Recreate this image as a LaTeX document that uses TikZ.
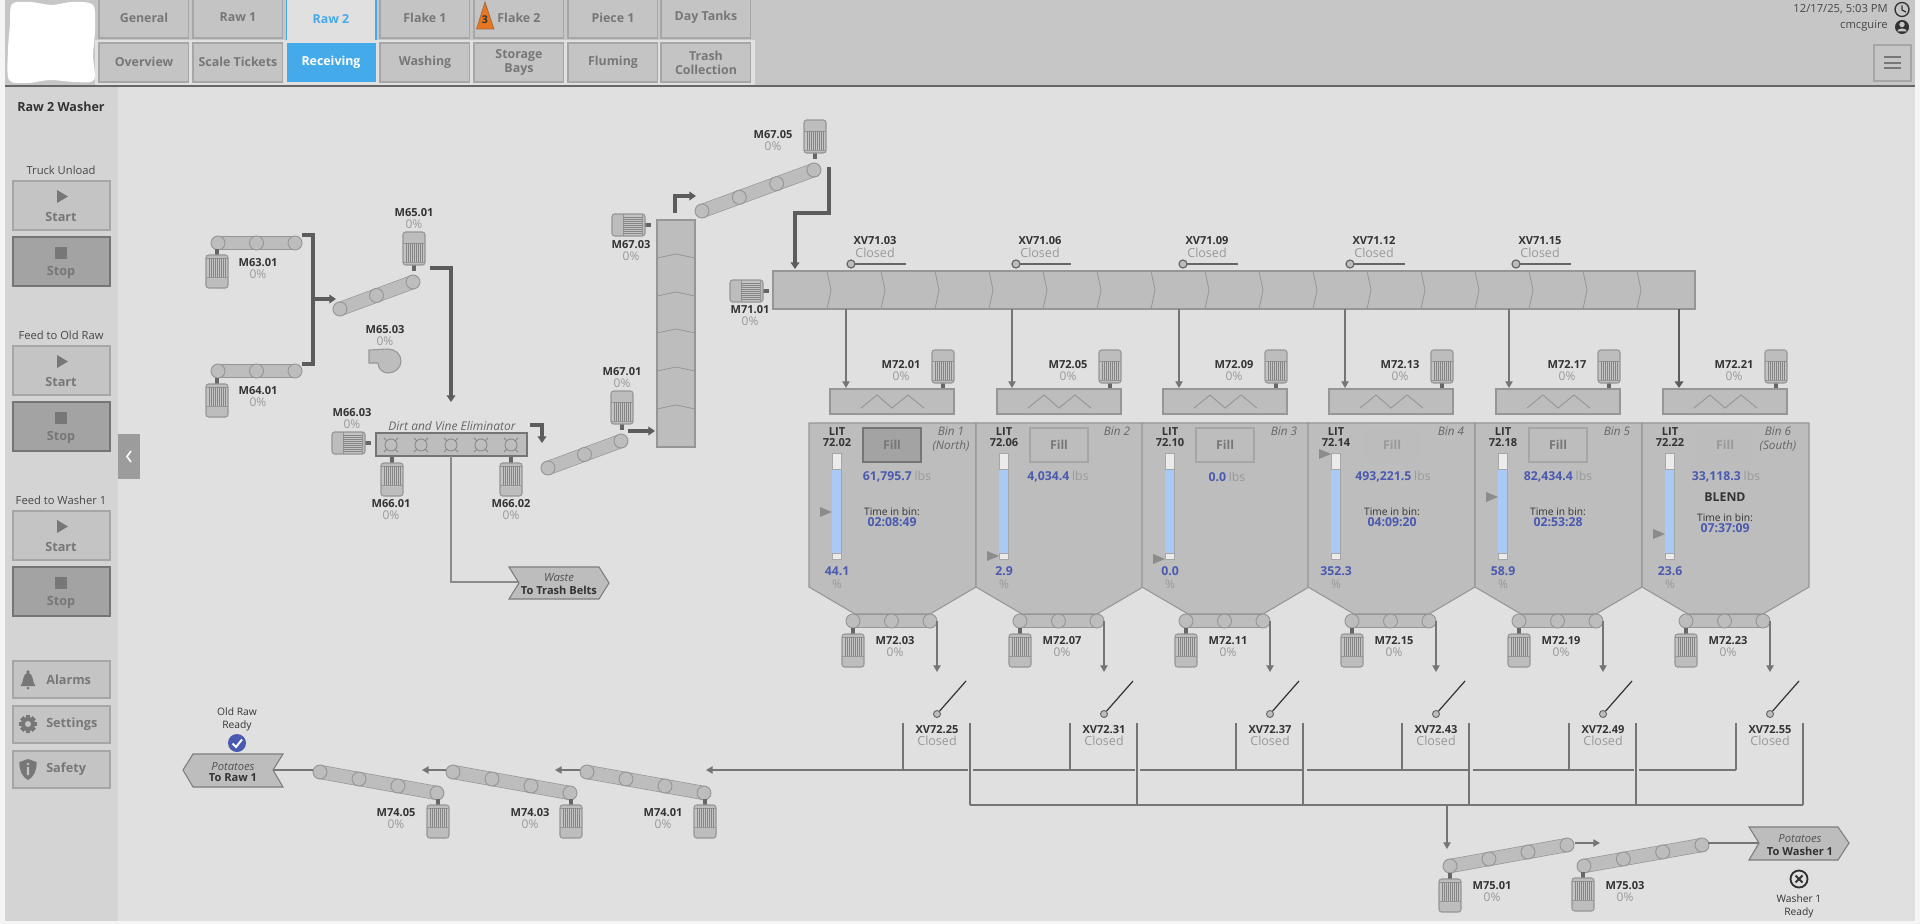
\documentclass[tikz,border=0pt]{standalone}
\usepackage{fontspec}
\setmainfont{Open Sans}
\usetikzlibrary{arrows.meta}
\usetikzlibrary{calc}

\definecolor{panelbg}{HTML}{E0E0E0}
\definecolor{headbg}{HTML}{C6C6C6}
\definecolor{sidebg}{HTML}{D4D4D4}
\definecolor{btnbg}{HTML}{C4C4C4}
\definecolor{btnedge}{HTML}{A6A6A6}
\definecolor{btndark}{HTML}{A3A3A3}
\definecolor{equip}{HTML}{BDBDBD}
\definecolor{equipedge}{HTML}{969696}
\definecolor{flow}{HTML}{666666}
\definecolor{softtext}{HTML}{999999}
\definecolor{btntext}{HTML}{777777}
\definecolor{darktext}{HTML}{333333}
\definecolor{valblue}{HTML}{4A5AB0}
\definecolor{levelblue}{HTML}{A9C9F7}
\definecolor{tabblue}{HTML}{45AAEA}
\definecolor{warnorange}{HTML}{E8771F}

\newcommand{\fsz}[1]{\fontsize{#1}{#1}\selectfont}

\tikzset{
	every node/.style={inner sep=0pt},
	tabbox/.style={fill=btnbg,draw=btnedge,line width=0.9pt},
	tabtext/.style={font=\fsz{9.3}\bfseries,text=btntext},
	btnup/.style={fill=btnbg,draw=btnedge,line width=0.9pt},
	btndown/.style={fill=btndark,draw=flow!75!btndark,line width=0.9pt},
	btntxt/.style={font=\fsz{9.5}\bfseries,text=btntext},
	plain/.style={font=\fsz{8.4},text=darktext!90},
	tagname/.style={font=\fsz{8.3}\bfseries,text=darktext},
	tagval/.style={font=\fsz{9},text=softtext},
	binval/.style={font=\fsz{9.2}\bfseries,text=valblue},
	binnote/.style={font=\fsz{8.8}\itshape,text=flow},
	boxnote/.style={font=\fsz{8.4}\itshape,text=flow!80!black},
	boxname/.style={font=\fsz{8.3}\bfseries,text=darktext},
	equipbox/.style={fill=equip,draw=equipedge,line width=0.8pt},
	heavyflow/.style={draw=flow!90!black,line width=2.4pt,-{Triangle[length=5pt,width=6.5pt]}},
	heavyline/.style={draw=flow!90!black,line width=2.4pt},
	thinflow/.style={draw=flow!90,line width=0.9pt,-{Triangle[length=5pt,width=5.5pt]}},
	pipeline/.style={draw=flow!90,line width=0.9pt},
	roller/.style={fill=equip,draw=equipedge,line width=0.7pt},
	motor/.pic={
		\draw[flow,line width=3pt] (0,-6) -- (0,0);
		\draw[equipbox,rounded corners=2pt] (-11,0) rectangle (11,33);
		\fill[btnbg] (-10.4,3) rectangle (10.4,22);
		\draw[equipedge,line width=0.5pt] (-10.6,3) -- (10.6,3) (-10.6,22) -- (10.6,22);
		\foreach \r in {-8,-6,...,8} \draw[flow!80,line width=0.6pt] (\r,3) -- (\r,22);
	},
}

\newcommand{\belt}[5]{
	\draw[equipedge,line width=10.6pt] (#1,#2) -- (#3,#4);
	\draw[equip,line width=9.6pt] (#1,#2) -- (#3,#4);
	\foreach \k in {0,...,#5} \draw[roller] ($(#1,#2)!\k/#5!(#3,#4)$) circle (7);
}

\begin{document}
\begin{tikzpicture}[x=0.75pt,y=-0.75pt]
	\useasboundingbox (0,0) rectangle (1920,924);

	%% Page %%
	\fill[white!96!black] (0,0) rectangle (1920,924);
	\fill[panelbg] (5,86) rectangle (1915,921);
	\fill[sidebg] (5,86) rectangle (118,921);
	\fill[headbg] (5,0) rectangle (1915,86);
	\fill[panelbg] (95,40) rectangle (755,86);
	\draw[flow,line width=0.9pt] (5,86) -- (1915,86);
	\fill[white] plot[smooth cycle,tension=0.5] coordinates {(12,4) (30,2) (52,5) (72,2) (93,5) (95,30) (93,55) (94,80) (75,82) (50,80) (28,83) (9,80) (8,50) (10,25)};

	%% Tabs %%
	\foreach[count=\i] \x/\t in {99/General,193/Raw 1,380/Flake 1,474/Flake 2,568/Piece 1,661/Day Tanks} {
		\draw[tabbox] (\x,-2) rectangle (\x+89.5,38);
		\node[tabtext] (top\i) at (\x+45,17.5) {\t};
	}
	\fill[panelbg] (286.5,0) rectangle (376,40);
	\draw[tabblue,line width=0.8pt] (286.5,0) -- (286.5,40) (376,0) -- (376,40);
	\node[tabtext,text=tabblue] (rawtwo) at (331,19.5) {Raw 2};
	\fill[warnorange,draw=flow!60!warnorange,line width=0.5pt] (485,2) -- (494,29) -- (476.5,29) -- cycle;
	\node[font=\fsz{8}\bfseries,text=darktext] (warncount) at (485,20) {3};
	\foreach[count=\i] \x/\t in {99/Overview,193/Scale Tickets,380/Washing,568/Fluming} {
		\draw[tabbox] (\x,43) rectangle (\x+89.5,82);
		\node[tabtext] (low\i) at (\x+45,62) {\t};
	}
	\fill[tabblue] (286.5,43) rectangle (376,82);
	\node[tabtext,text=white] (receiving) at (331,62) {Receiving};
	\foreach \x in {474,661} \draw[tabbox] (\x,43) rectangle (\x+89.5,82);
	\node[tabtext] (storage) at (519,56) {Storage};
	\node[tabtext] (bays) at (519,70) {Bays};
	\node[tabtext] (trash) at (706,56) {Trash};
	\node[tabtext] (collection) at (706,70) {Collection};

	%% Clock and User %%
	\node[plain,anchor=east] (stamp) at (1888,9) {12/17/25, 5:03 PM};
	\node[plain,anchor=east] (user) at (1888,26) {cmcguire};
	\draw[darktext,line width=1pt] (1902,9.5) circle (7);
	\draw[darktext,line width=0.9pt] (1902,5.5) -- (1902,10) -- (1906,12);
	\fill[darktext] (1902,27) circle (7);
	\fill[headbg] (1902,24.5) circle (2.7);
	\fill[headbg] (1897,31.5) .. controls (1898,27.5) and (1906,27.5) .. (1907,31.5) -- cycle;
	\draw[btnedge,line width=0.9pt] (1874,45) rectangle (1911,81);
	\foreach \y in {57.5,63,68.5} \draw[btntext,line width=1.5pt] (1884,\y) -- (1901,\y);

	%% Side Panel %%
	\node[font=\fsz{9.4}\bfseries,text=darktext] (washer) at (61,107) {Raw 2 Washer};
	\foreach[count=\i] \y/\t in {181/Truck Unload,346/Feed to Old Raw,511/Feed to Washer 1} {
		\node[plain] (group\i) at (61,\y-11) {\t};
		\draw[btnup] (13,\y) rectangle (110,\y+49);
		\fill[btntext] (57,\y+9) -- (68,\y+15.5) -- (57,\y+22) -- cycle;
		\node[btntxt] (start\i) at (61,\y+36) {Start};
		\draw[btndown] (13,\y+56) rectangle (110,\y+105);
		\fill[btntext] (55,\y+66) rectangle (67,\y+78);
		\node[btntxt] (stop\i) at (61,\y+91) {Stop};
	}
	\foreach[count=\i] \y/\t in {661/Alarms,706/Settings,751/Safety} {
		\draw[btnup] (13,\y) rectangle (110,\y+37);
		\node[btntxt,anchor=west] (tool\i) at (46,\y+18.5) {\t};
	}
	\fill[btntext] (20.5,686) .. controls (24,682) and (22,674) .. (28,672.5) .. controls (34,674) and (32,682) .. (35.5,686) -- cycle;
	\fill[btntext] (28,672) circle (1.8) (28,688) circle (1.5);
	\foreach \a in {0,45,...,135} \fill[btntext,rotate around={\a:(28,724)}] (25.8,715) rectangle (30.2,733);
	\fill[btntext] (28,724) circle (7);
	\fill[btnbg] (28,724) circle (3);
	\fill[btntext] (28,759) -- (36.5,762) .. controls (37,770) and (34,777) .. (28,780) .. controls (22,777) and (19,770) .. (19.5,762) -- cycle;
	\fill[btnbg] (26.8,767) rectangle (29.2,775) (28,764) circle (1.4);
	\fill[black!12] (118,436) rectangle (142,482);
	\fill[black!39] (118,434) rectangle (140,479);
	\draw[white,line width=1.2pt] (131,451) -- (127,456.5) -- (131,462);

	%% First Conveyors %%
	\belt{218}{243}{295}{243}{2}
	\belt{218}{371}{295}{371}{2}
	\belt{340}{309}{413}{282}{2}
	\pic at (217,255) {motor};
	\pic at (217,384) {motor};
	\pic[rotate=180] at (414,265) {motor};
	\coordinate (m63out) at (302,235);
	\coordinate (m64out) at (302,364);
	\coordinate (m65in) at (336,299);
	\coordinate (m65out) at (430,268);
	\coordinate (eliminin) at (451,402);
	\draw[heavyline] (m63out) -| (313,364) -- (m64out);
	\draw[heavyflow] (313,299) -- (m65in);
	\draw[heavyflow] (m65out) -| (eliminin);
	\draw[equipbox] (369,350) -- (388,349) .. controls (395,349) and (401,354) .. (401,361) .. controls (401,368) and (395,373) .. (388,373) .. controls (382,373) and (378,368) .. (378,363) -- (369,363) -- cycle;

	%% Dirt and Vine Eliminator %%
	\pic[rotate=-90] at (365,443) {motor};
	\pic at (392,463) {motor};
	\pic at (511,463) {motor};
	\draw[equipbox,draw=flow!90,line width=1.1pt] (376,433) rectangle (527,456);
	\foreach \x in {391,421,...,511} {
		\draw[flow!80,line width=0.6pt] (\x,445) circle (6);
		\draw[flow!80,line width=0.6pt] (\x-7,438) -- (\x-4,441) (\x+7,438) -- (\x+4,441) (\x-7,452) -- (\x-4,449) (\x+7,452) -- (\x+4,449);
	}
	\node[font=\fsz{9}\itshape,text=flow] (elimin) at (452,426) {Dirt and Vine Eliminator};
	\coordinate (elimout) at (530,425);
	\coordinate (m67in) at (542,443);
	\coordinate (wastein) at (519,582);
	\draw[heavyflow] (elimout) -| (m67in);
	\draw[pipeline,draw=flow!75] (451,456) |- (wastein);
	\draw[equipbox,draw=flow!85] (509,567) -- (599,567) -- (609,583) -- (599,599) -- (509,599) -- (519,583) -- cycle;
	\node[boxnote] (wastenote) at (559,578) {Waste};
	\node[boxname] (wastename) at (559,590) {To Trash Belts};

	%% Elevator %%
	\belt{548}{468}{621}{441}{2}
	\pic[rotate=180] at (622,424) {motor};
	\coordinate (m67out) at (628,431);
	\coordinate (elevin) at (655,431);
	\draw[heavyflow] (m67out) -- (elevin);
	\draw[equipbox] (657,220) rectangle (695,447);
	\foreach \y in {254,292,329,367,405} \draw[equipedge,line width=0.6pt] (657,\y+4) -- (676,\y) -- (695,\y+4);
	\pic[rotate=-90] at (645,225) {motor};
	\coordinate (elevout) at (675,213);
	\coordinate (m6705in) at (696,196);
	\draw[heavyflow] (elevout) |- (m6705in);
	\belt{702}{211}{814}{170}{3}
	\pic[rotate=180] at (815,153) {motor};
	\coordinate (m6705out) at (829,167);
	\coordinate (screwin) at (795,269);
	\draw[heavyflow] (m6705out) -- (829,213) -- (795,213) -- (screwin);

	%% Screw Conveyor %%
	\pic[rotate=-90] at (763,291) {motor};
	\draw[equipbox] (773,271) rectangle (1695,309);
	\foreach \k in {0,...,15} \draw[equipedge,line width=0.6pt] (827+54*\k,271) -- (831+54*\k,290) -- (827+54*\k,309);
	\foreach[count=\i] \c/\t in {875/03,1040/06,1207/09,1374/12,1540/15} {
		\node[tagname] (xvname\i) at (\c,241) {XV71.\t};
		\node[tagval,font=\fsz{9.4}] (xvstate\i) at (\c,252.5) {Closed};
		\draw[flow,line width=1.6pt] (\c-24,264) -- (\c+31,264);
		\draw[roller,draw=flow,line width=0.9pt] (\c-24,264) circle (4);
	}

	%% Bins %%
	\foreach[count=\i] \L/\lit/\ptr/\lvl/\feed/\bel/\xv/\drop in {809/72.02/512/44.1/01/03/25/846,976/72.06/556/2.9/05/07/31/1012,1142/72.10/559/0.0/09/11/37/1179,1308/72.14/454/352.3/13/15/43/1345,1475/72.18/497/58.9/17/19/49/1509,1642/72.22/534/23.6/21/23/55/1679} {
		%% Feeder %%
		\pic[rotate=180] at (\L+134,383) {motor};
		\draw[equipbox] (\L+21,389) rectangle (\L+145,414);
		\draw[equipedge,line width=0.7pt] (\L+52,408) -- (\L+68,395) -- (\L+83,408) -- (\L+99,395) -- (\L+115,408);
		\node[tagname] (feedname\i) at (\L+92,365) {M72.\feed};
		\node[tagval] (feedval\i) at (\L+92,376) {0\%};
		\coordinate (dropin\i) at (\drop,309);
		\coordinate (dropout\i) at (\drop,388);
		%% Body %%
		\draw[equipbox] (\L,423) -- (\L+167,423) -- (\L+167,587) -- (\L+121,614) -- (\L+46,614) -- (\L,587) -- cycle;
		\node[tagname] (litname\i) at (\L+28,432) {LIT};
		\node[tagname] (littag\i) at (\L+28,443) {\lit};
		\draw[fill=white!92!black,draw=btnedge,line width=0.7pt] (\L+23,453) rectangle (\L+32,559);
		\fill[levelblue] (\L+23.4,469) rectangle (\L+31.6,553);
		\draw[btnedge,line width=0.6pt] (\L+23,469) -- (\L+32,469) (\L+23,553) -- (\L+32,553);
		\fill[black!45] (\L+11,\ptr-5) -- (\L+23,\ptr) -- (\L+11,\ptr+5) -- cycle;
		\node[binval] (lvl\i) at (\L+28,571) {\lvl};
		\node[tagval] (pct\i) at (\L+28,584) {\%};
		%% Bottom Conveyor %%
		\belt{\L+44}{621}{\L+121}{621}{2}
		\pic at (\L+44,634) {motor};
		\node[tagname] (belname\i) at (\L+86,641) {M72.\bel};
		\node[tagval] (belval\i) at (\L+86,652) {0\%};
		\coordinate (belout\i) at (\L+128,621);
		\coordinate (belend\i) at (\L+128,672);
		\draw[thinflow] (belout\i) -- (belend\i);
		%% Discharge Valve %%
		\draw[darktext,line width=0.9pt] (\L+128,714) -- (\L+157,681);
		\draw[roller,draw=flow] (\L+128,714) circle (3.5);
		\node[tagname] (dvname\i) at (\L+128,730) {XV72.\xv};
		\node[tagval,font=\fsz{9.4}] (dvstate\i) at (\L+128,741) {Closed};
		\draw[pipeline] (\L+94,723) -- (\L+94,770);
		\draw[pipeline] (\L+161,723) -- (\L+161,805);
	}
	\foreach \i in {1,...,5} \draw[thinflow] (dropin\i) -- (dropout\i);
	\draw[heavyflow,line width=2pt] (dropin6) -- (dropout6);
	\draw[pipeline] (970,805) -- (1803,805);
	\foreach[count=\i] \c/\v in {897/{61,795.7},1058/{4,034.4},1227/{0.0},1393/{493,221.5},1558/{82,434.4},1726/{33,118.3}} {
		\node[binval] (lbs\i) at (\c,477) {\v\hspace{2pt}{\color{softtext}\mdseries lbs}};
	}
	\foreach[count=\i] \c/\y/\v in {892/512/02:08:49,1392/512/04:09:20,1558/512/02:53:28,1725/518/07:37:09} {
		\node[font=\fsz{7.7},text=darktext] (timetext\i) at (\c,\y) {Time in bin:};
		\node[binval] (timeval\i) at (\c,\y+10) {\v};
	}
	\node[font=\fsz{9.2}\bfseries,text=darktext] (blend) at (1725,497) {BLEND};
	\foreach[count=\i] \c/\t in {951/Bin 1,1117/Bin 2,1284/Bin 3,1451/Bin 4,1617/Bin 5,1778/Bin 6} \node[binnote] (binname\i) at (\c,431) {\t};
	\node[binnote] (north) at (951,446) {(North)};
	\node[binnote] (south) at (1778,446) {(South)};

	%% Fill Buttons %%
	\draw[btndown] (863,428) rectangle (921,462);
	\foreach \x in {1030,1196,1529} \draw[equipbox,draw=btnedge] (\x,428) rectangle (\x+58,462);
	\foreach \x in {1363,1696} \fill[btnbg!96!black] (\x,428) rectangle (\x+58,462);
	\foreach[count=\i] \x in {892,1059,1225,1558} \node[btntxt,font=\fsz{9.2}\bfseries] (fill\i) at (\x,444.5) {Fill};
	\foreach[count=\i] \x in {1392,1725} \node[btntxt,font=\fsz{9.2}\bfseries,text=softtext] (filloff\i) at (\x,444.5) {Fill};

	%% Old Raw Line %%
	\foreach \a/\b in {972.5/1134.5,1139.5/1301.5,1306.5/1467.5,1472.5/1633.5,1638.5/1736} \draw[pipeline] (\a,770) -- (\b,770);
	\coordinate (oldrawin) at (967.5,770);
	\coordinate (m7401in) at (706,770);
	\draw[thinflow] (oldrawin) -- (m7401in);
	\belt{587}{772}{704}{793}{3}
	\belt{453}{772}{570}{793}{3}
	\belt{320}{772}{437}{793}{3}
	\foreach \x in {705,571,438} \pic at (\x,805) {motor};
	\coordinate (m7401out) at (580,770);
	\coordinate (m7403in) at (555,770);
	\coordinate (m7403out) at (446,770);
	\coordinate (m7405in) at (422,770);
	\coordinate (rawbox) at (273,770);
	\coordinate (m7405out) at (313,770);
	\draw[thinflow] (m7401out) -- (m7403in);
	\draw[thinflow] (m7403out) -- (m7405in);
	\draw[pipeline] (m7405out) -- (rawbox);
	\draw[equipbox,draw=flow!85] (283,754) -- (193,754) -- (183,770) -- (193,787) -- (283,787) -- (273,770) -- cycle;
	\node[boxnote] (rawnote) at (233,767) {Potatoes};
	\node[boxname] (rawname) at (233,778) {To Raw 1};
	\node[font=\fsz{7.7},text=darktext] (oldraw) at (237,712) {Old Raw};
	\node[font=\fsz{7.7},text=darktext] (oldready) at (237,726) {Ready};
	\fill[valblue] (237,743) circle (9);
	\draw[white,line width=1.5pt] (232.5,743.5) -- (236,747) -- (242,739.5);

	%% Washer Line %%
	\coordinate (washerdrop) at (1447,805);
	\coordinate (m7501in) at (1447,849);
	\draw[thinflow] (washerdrop) -- (m7501in);
	\belt{1450}{866}{1567}{845}{3}
	\belt{1584}{866}{1702}{845}{3}
	\pic at (1450,879) {motor};
	\pic at (1583,878) {motor};
	\coordinate (m7501out) at (1575,843);
	\coordinate (m7503in) at (1600,843);
	\coordinate (m7503out) at (1708,843);
	\coordinate (washbox) at (1759,843);
	\draw[thinflow] (m7501out) -- (m7503in);
	\draw[pipeline] (m7503out) -- (washbox);
	\draw[equipbox,draw=flow!85] (1749,827) -- (1838,827) -- (1849,843) -- (1838,860) -- (1749,860) -- (1759,843) -- cycle;
	\node[boxnote] (washnote) at (1800,839) {Potatoes};
	\node[boxname] (washname) at (1800,851) {To Washer 1};
	\draw[darktext,line width=1.4pt] (1799,879) circle (8.5);
	\draw[darktext,line width=1.4pt] (1795.5,875.5) -- (1802.5,882.5) (1802.5,875.5) -- (1795.5,882.5);
	\node[font=\fsz{7.7},text=darktext] (washready) at (1799,899) {Washer 1};
	\node[font=\fsz{7.7},text=darktext] (washstate) at (1799,913) {Ready};

	%% Motor Tags %%
	\foreach[count=\i] \t/\x/\y in {M63.01/258/263,M64.01/258/391,M65.01/414/213,M65.03/385/330,M66.03/352/413,M66.01/391/504,M66.02/511/504,M67.01/622/372,M67.03/631/245,M67.05/773/135,M71.01/750/310,M74.05/396/813,M74.03/530/813,M74.01/663/813,M75.01/1492/886,M75.03/1625/886} {
		\node[tagname] (tagname\i) at (\x,\y) {\t};
		\node[tagval] (tagval\i) at (\x,\y+11) {0\%};
	}

\end{tikzpicture}
\end{document}
